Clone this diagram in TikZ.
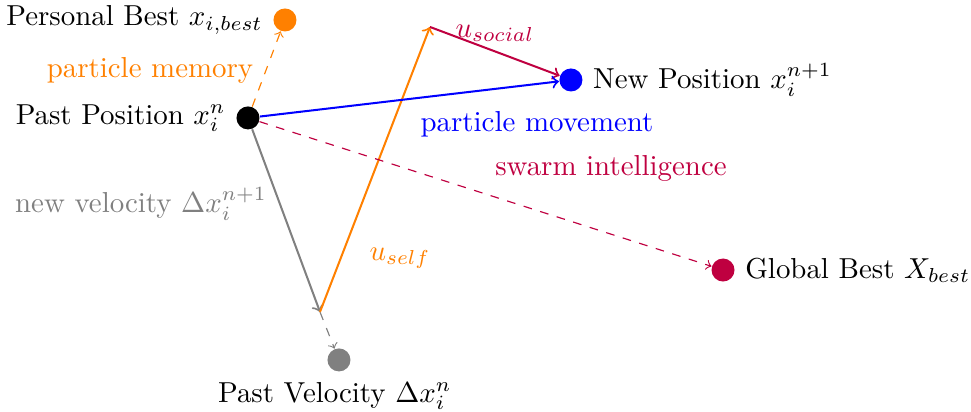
\documentclass[tikz,border=0pt]{standalone}
\usepackage{xcolor}
\usetikzlibrary{arrows.meta, positioning, calc}

\begin{document}
\begin{tikzpicture}[>=to,
    dot/.style={circle, fill, minimum size=2.8mm, inner sep=0pt},
    move/.style={->, line width=0.7pt}]
    \useasboundingbox (0,0) rectangle (11.813,5.012);
    % particles
    \node[dot] (past) at (3.017,3.577) {};
    \node[dot, orange] (pbest) at (3.467,4.769) {};
    \node[dot, blue] (new) at (6.946,4.039) {};
    \node[dot, purple] (gbest) at (8.796,1.727) {};
    \node[dot, gray] (vel) at (4.124,0.633) {};
    \coordinate (v) at (3.893,1.217);
    \coordinate (top) at (5.231,4.684);
    % names
    \node[left=0pt of past] (lpast) {Past Position $x_i^n$};
    \node[left=0pt of pbest] (lpbest) {Personal Best $x_{i,best}$};
    \node[right=0pt of new] (lnew) {New Position $x_i^{n+1}$};
    \node[right=0pt of gbest] (lgbest) {Global Best $X_{best}$};
    \node[below=0pt of vel, xshift=-0.5mm] (lvel) {Past Velocity $\Delta x_i^n$};
    % vectors
    \draw[move, gray] (past) -- (v);
    \draw[->, gray, dashed] (v) -- (vel);
    \draw[move, orange] (v) -- (top);
    \draw[move, purple] (top) -- (new);
    \draw[move, blue] (past) -- (new);
    \draw[->, orange, dashed] (past) -- (pbest);
    \draw[->, purple, dashed] (past) -- (gbest);
    % labels
    \node[orange] (lmem) at (1.825,4.161) {particle memory};
    \node[blue] (lmove) at (6.533,3.504) {particle movement};
    \node[purple] (lswarm) at (7.433,2.968) {swarm intelligence};
    \node[gray] (lnewvel) at (1.715,2.530) {new velocity $\Delta x_i^{n+1}$};
    \node[orange] (lself) at (4.866,1.873) {$u_{self}$};
    \node[purple] (lsocial) at (6.022,4.611) {$u_{social}$};
\end{tikzpicture}
\end{document}
